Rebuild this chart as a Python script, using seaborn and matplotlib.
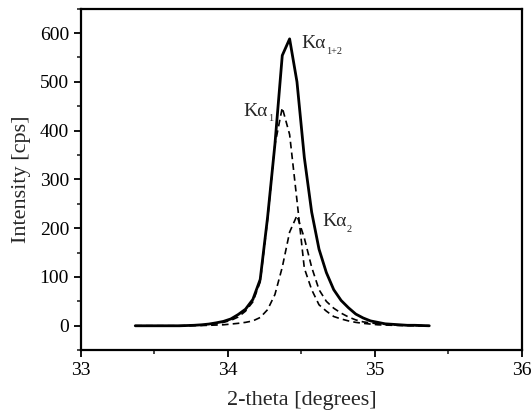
import numpy as np
import pandas as pd
import matplotlib
matplotlib.use("Agg")
import matplotlib.pyplot as plt
from matplotlib.ticker import MultipleLocator
from matplotlib.transforms import offset_copy
import seaborn as sns

# 2-theta sampling (degrees)
two_theta = np.round(np.arange(33.37, 35.3701, 0.05), 2)

# Measured Kα1+2 profile (cps)
k_total = [0, 0, 0, 0, 0, 0, 0, 0.5, 1, 2, 3.5, 6, 9, 14, 23, 34, 54, 95,
           222, 372, 554, 588, 500, 345, 233, 157, 109, 74, 52, 37, 24, 16,
           10, 7, 4, 3, 2, 1, 1, 0.5, 0]
# Fitted Kα1 component (cps)
k_alpha1 = [0, 0, 0, 0, 0, 0, 0, 0.5, 1, 1.5, 2.5, 4, 7, 11, 18, 30, 49, 90,
            218, 371, 447, 392, 257, 118, 74, 43, 30, 19, 14, 10, 7, 5,
            3.5, 2, 1.5, 1, 0.5, 0.5, 0, 0, 0]
# Fitted Kα2 component (cps)
k_alpha2 = [0, 0, 0, 0, 0, 0, 0, 0, 0.5, 0.5, 1, 1.5, 2, 3.5, 5, 7, 10, 17,
            33, 64, 120, 192, 226, 180, 120, 74, 50, 36, 26, 18, 12, 8,
            6, 4, 3, 2, 1.5, 1, 0.5, 0.5, 0]

# Peak labels: (position, main text, subscript)
labels = [
    (34.50, 578, "Kα", "1+2"),
    (34.105, 440, "Kα", "1"),
    (34.64, 213, "Kα", "2"),
]

df = pd.DataFrame({
    "two_theta": np.concatenate([two_theta] * 3),
    "intensity": k_total + k_alpha1 + k_alpha2,
    "line": ["total"] * len(two_theta) + ["a1"] * len(two_theta) + ["a2"] * len(two_theta),
})

sns.set_style("ticks")
plt.rcParams["font.family"] = ["Liberation Serif", "DejaVu Serif"]

fig = plt.figure(figsize=(5.32, 4.11), dpi=100)
ax = fig.add_axes([0.152, 0.148, 0.829, 0.831])

sns.lineplot(data=df[df.line == "total"], x="two_theta", y="intensity",
             color="black", linewidth=2.0, ax=ax, legend=False)
for name in ["a1", "a2"]:
    sns.lineplot(data=df[df.line == name], x="two_theta", y="intensity",
                 color="black", linewidth=1.2, ax=ax, legend=False,
                 dashes=False, linestyle=(0, (4, 2.5)))

ax.set_xlim(33, 36)
ax.set_ylim(-50, 650)
ax.xaxis.set_major_locator(MultipleLocator(1))
ax.xaxis.set_minor_locator(MultipleLocator(0.5))
ax.yaxis.set_major_locator(MultipleLocator(100))
ax.yaxis.set_minor_locator(MultipleLocator(50))
ax.tick_params(which="major", direction="out", length=5, width=1.3, labelsize=14,
               colors="black")
ax.tick_params(which="minor", direction="out", length=3, width=1.2)
for side in ax.spines.values():
    side.set_linewidth(1.6)
    side.set_color("black")

ax.set_xlabel("2-theta [degrees]", fontsize=16, labelpad=9)
ax.set_ylabel("Intensity [cps]", fontsize=16, labelpad=6)

fig.canvas.draw()
renderer = fig.canvas.get_renderer()
for x, y, main, sub in labels:
    t = ax.text(x, y, main, fontsize=14, va="center", ha="left", zorder=5)
    bb = t.get_window_extent(renderer)
    w = bb.width * 72 / fig.dpi
    tr = offset_copy(ax.transData, fig=fig, x=w + 0.5, y=-5.5, units="points")
    ax.text(x, y, sub, fontsize=7.5, va="center", ha="left", transform=tr, zorder=5)

fig.savefig("out.png", dpi=100)
